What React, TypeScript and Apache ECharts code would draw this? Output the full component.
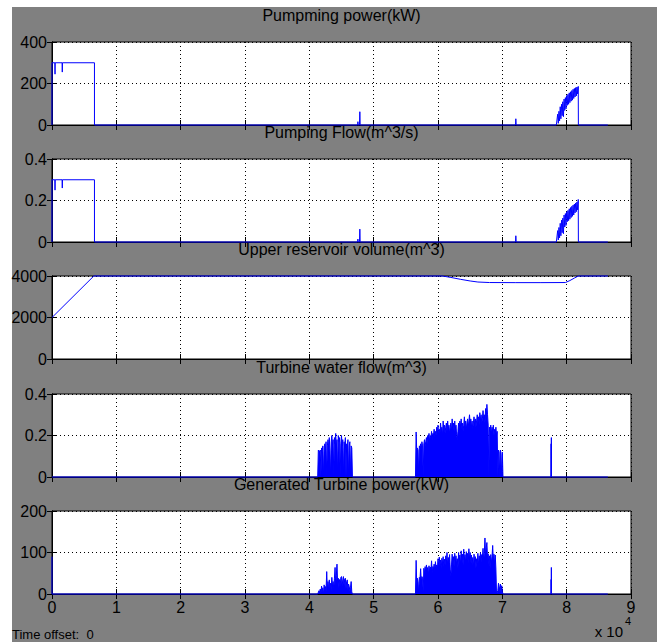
import React, { useEffect, useRef } from "react";
import * as echarts from "echarts";

// Time axis (seconds), labelled in units of 10^4 s
const X_MAX = 90000;
const X_STEP = 10000;
const X_TICK_LABELS = ["0", "1", "2", "3", "4", "5", "6", "7", "8", "9"];
const SAMPLE_DT = 100;

const TITLES = [
  "Pumpming power(kW)",
  "Pumping Flow(m^3/s)",
  "Upper reservoir volume(m^3)",
  "Turbine water flow(m^3)",
  "Generated Turbine power(kW)",
];
const Y_MAX = [400, 0.4, 4000, 0.4, 200];
const Y_STEP = [200, 0.2, 2000, 0.2, 100];

// ---- Pumping power (kW)
const pumpPowerHead: number[][] = [
  [0, 0], [0, 300], [440, 300], [470, 245], [500, 300], [1570, 300], [1600, 255], [1630, 300],
  [6600, 300], [6600, 0], [47500, 0], [47550, 16], [47600, 0], [47800, 0], [47850, 64], [47900, 0],
  [72050, 0], [72100, 30], [72150, 0], [78400, 0],
];
const PUMP_BURST_START = 78500;
const pumpPowerBurst = [
  0, 52, 8, 66, 20, 88, 30, 100, 45, 112, 40, 125, 70, 132, 78, 142, 95, 148, 100, 155,
  108, 160, 115, 166, 120, 172, 128, 176, 135, 180, 140, 183, 150, 186,
];
const pumpPowerTail: number[][] = [[81820, 0], [86400, 0]];

// ---- Pumping flow (m^3/s)
const pumpFlowHead: number[][] = [
  [0, 0], [0, 0.3], [440, 0.3], [470, 0.25], [500, 0.3], [1570, 0.3], [1600, 0.26], [1630, 0.3],
  [6600, 0.3], [6600, 0], [47500, 0], [47550, 0.014], [47600, 0], [47800, 0], [47850, 0.062], [47900, 0],
  [72050, 0], [72100, 0.03], [72150, 0], [78400, 0],
];
const pumpFlowBurst = [
  0, 0.055, 0.01, 0.07, 0.02, 0.09, 0.03, 0.105, 0.045, 0.115, 0.04, 0.13, 0.072, 0.137, 0.08, 0.146,
  0.098, 0.152, 0.103, 0.16, 0.11, 0.166, 0.118, 0.172, 0.124, 0.178, 0.13, 0.183, 0.14, 0.188, 0.146,
  0.193, 0.155, 0.205,
];
const pumpFlowTail: number[][] = [[81820, 0], [86400, 0]];

// ---- Upper reservoir volume (m^3)
const reservoirVolume: number[][] = [
  [0, 2000], [6500, 4000], [60700, 4000], [62000, 3930], [63500, 3840], [65000, 3760], [66200, 3710],
  [68000, 3685], [72000, 3680], [76000, 3680], [79800, 3685], [80500, 3780], [81200, 3900],
  [81800, 4000], [86400, 4000],
];

// ---- Turbine water flow
const TURB_A_START = 41400;
const TURB_B_START = 56600;
const turbineFlowA = [
  0.13, 0.13, 0.12, 0.13, 0, 0.14, 0.13, 0.15, 0, 0.14, 0.16, 0.13, 0.17, 0, 0.15, 0.18, 0.14, 0.19,
  0.13, 0, 0.17, 0.2, 0.15, 0.18, 0, 0.19, 0.16, 0.21, 0.14, 0.18, 0, 0.2, 0.17, 0.19, 0, 0.16, 0.2,
  0.15, 0.18, 0, 0.17, 0.14, 0.19, 0, 0.16, 0.13, 0.18, 0, 0.15, 0.17, 0, 0.15, 0.14, 0,
];
const turbineFlowB = [
  0.217, 0.12, 0.14, 0.13, 0, 0.15, 0.14, 0.16, 0.13, 0.17, 0.15, 0, 0.16, 0.18, 0.15, 0.17, 0.19,
  0.16, 0.2, 0.18, 0.21, 0.17, 0.2, 0.19, 0.22, 0.18, 0.21, 0.2, 0.23, 0.19, 0.22, 0.2, 0.24, 0.21,
  0.25, 0.2, 0.23, 0.21, 0.26, 0.22, 0.24, 0.2, 0.27, 0.22, 0.25, 0.21, 0.24, 0.26, 0.22, 0.27, 0.23,
  0.25, 0.21, 0.24, 0.26, 0.22, 0.28, 0.24, 0.26, 0.22, 0.27, 0.23, 0.25, 0.2, 0.18, 0.22, 0.26, 0.23,
  0.27, 0.24, 0.28, 0.23, 0.26, 0.22, 0.25, 0.29, 0.24, 0.27, 0.23, 0.26, 0.28, 0.24, 0.27, 0.3, 0.25,
  0.28, 0.24, 0.27, 0.23, 0.26, 0.29, 0.25, 0.28, 0.24, 0.27, 0.3, 0.26, 0.29, 0.25, 0.31, 0.27, 0.3,
  0.26, 0.28, 0.32, 0.27, 0.3, 0.26, 0.33, 0.28, 0.35, 0.3, 0.25, 0, 0.24, 0.22, 0.25, 0.21, 0.24,
  0.22, 0.25, 0.2, 0.23, 0.21, 0.24, 0.2, 0.22, 0, 0.13, 0.12, 0, 0.13, 0.11, 0, 0.12, 0,
];
const turbineFlowEdges: number[][][] = [
  [[0, 0], [41300, 0]],
  [[46800, 0], [56500, 0]],
  [[70300, 0], [77560, 0], [77580, 0.16], [77600, 0], [77620, 0.19], [77640, 0], [86400, 0]],
];

// ---- Generated turbine power (kW)
const turbinePowerA = [
  0, 8, 3, 12, 0, 19, 6, 15, 0, 22, 10, 18, 8, 54, 12, 30, 10, 34, 15, 26, 8, 40, 18, 30, 12, 38, 64,
  20, 45, 72, 25, 38, 15, 35, 20, 40, 42, 18, 35, 42, 20, 36, 38, 12, 30, 34, 10, 24, 18, 8, 15, 30, 5, 0,
];
const turbinePowerB = [
  81, 20, 38, 30, 0, 40, 35, 61, 30, 42, 38, 5, 62, 48, 66, 50, 70, 55, 64, 45, 68, 52, 65, 58, 80, 50,
  66, 60, 72, 55, 78, 62, 70, 58, 85, 66, 89, 70, 82, 60, 86, 72, 90, 65, 84, 70, 92, 75, 100, 68, 88,
  78, 95, 60, 42, 70, 96, 74, 90, 66, 98, 80, 92, 70, 85, 62, 100, 78, 94, 72, 104, 80, 96, 70, 108, 82,
  95, 75, 102, 85, 98, 72, 109, 84, 100, 78, 94, 70, 88, 65, 96, 75, 90, 62, 85, 72, 98, 70, 92, 80, 100,
  78, 95, 88, 110, 80, 98, 135, 90, 112, 124, 85, 97, 70, 92, 60, 95, 75, 90, 117, 80, 96, 72, 94, 60,
  0, 0, 8, 26, 4, 18, 24, 0, 20, 6, 0,
];
const turbinePowerEdges: number[][][] = [
  [[0, 90], [0, 0], [41300, 0]],
  [[46800, 0], [56500, 0]],
  [[70300, 0], [77560, 0], [77580, 35], [77600, 0], [77620, 64], [77640, 0], [86400, 0]],
];

function sampled(t0: number, values: number[]): number[][] {
  return values.map((v, i) => [t0 + i * SAMPLE_DT, v]);
}

const SERIES_DATA: number[][][] = [
  [...pumpPowerHead, ...sampled(PUMP_BURST_START, pumpPowerBurst), ...pumpPowerTail],
  [...pumpFlowHead, ...sampled(PUMP_BURST_START, pumpFlowBurst), ...pumpFlowTail],
  reservoirVolume,
  [
    ...turbineFlowEdges[0], ...sampled(TURB_A_START, turbineFlowA),
    ...turbineFlowEdges[1], ...sampled(TURB_B_START, turbineFlowB), ...turbineFlowEdges[2],
  ],
  [
    ...turbinePowerEdges[0], ...sampled(TURB_A_START, turbinePowerA),
    ...turbinePowerEdges[1], ...sampled(TURB_B_START, turbinePowerB), ...turbinePowerEdges[2],
  ],
];
const FILLED = [false, false, false, true, true];

const FONT = '"Liberation Sans", Arial, Helvetica, sans-serif';
const PLOT_LEFT = 52;
const PLOT_WIDTH = 579;
const PLOT_HEIGHT = 83;
const PLOT_TOPS = [42, 159, 276, 394, 511];
const TRACE = "#0000ff";

export default function App() {
  const ref = useRef<HTMLDivElement>(null);

  useEffect(() => {
    if (!ref.current) return;
    const chart = echarts.init(ref.current, undefined, { renderer: "svg" });

    const tick = { show: true, inside: true, length: 5, lineStyle: { color: "#000", width: 1 } };
    const axisLine = { show: true, lineStyle: { color: "#000", width: 1 } };
    const dotted = { show: true, lineStyle: { color: "#000", width: 1, type: [1, 3] as any } };

    const grids = PLOT_TOPS.map((top) => ({
      left: PLOT_LEFT, top, width: PLOT_WIDTH, height: PLOT_HEIGHT,
      show: true, backgroundColor: "#fff", borderColor: "#000", borderWidth: 1,
    }));

    const xAxes: any[] = [];
    const yAxes: any[] = [];
    PLOT_TOPS.forEach((_, i) => {
      const last = i === PLOT_TOPS.length - 1;
      xAxes.push({
        type: "value", gridIndex: i, position: "bottom", min: 0, max: X_MAX, interval: X_STEP,
        axisLine, axisTick: tick, splitLine: dotted,
        axisLabel: {
          show: last, margin: 5, color: "#000", fontSize: 16, fontFamily: FONT,
          formatter: (v: number) => X_TICK_LABELS[Math.round(v / X_STEP)] ?? "",
        },
      });
      xAxes.push({
        type: "value", gridIndex: i, position: "top", min: 0, max: X_MAX, interval: X_STEP,
        axisLine, axisTick: tick, splitLine: { show: false }, axisLabel: { show: false },
      });
      yAxes.push({
        type: "value", gridIndex: i, position: "left", min: 0, max: Y_MAX[i], interval: Y_STEP[i],
        axisLine, axisTick: tick, splitLine: dotted,
        axisLabel: {
          margin: 5, color: "#000", fontSize: 16, fontFamily: FONT,
          formatter: (v: number) => String(Math.round(v * 1000) / 1000),
        },
      });
      yAxes.push({
        type: "value", gridIndex: i, position: "right", min: 0, max: Y_MAX[i], interval: Y_STEP[i],
        axisLine, axisTick: tick, splitLine: { show: false }, axisLabel: { show: false },
      });
    });

    const series = SERIES_DATA.map((data, i) => ({
      type: "line",
      xAxisIndex: 2 * i,
      yAxisIndex: 2 * i,
      data,
      symbol: "none",
      showSymbol: false,
      clip: false,
      silent: true,
      z: 5,
      lineStyle: { color: TRACE, width: 1 },
      areaStyle: FILLED[i] ? { color: TRACE, opacity: 1 } : undefined,
    }));

    const textStyle = (text: string, size: number, align: string, family = FONT) => ({
      text,
      font: `${size}px ${family}`,
      fill: "#000",
      align,
      verticalAlign: "middle",
      textAlign: align,
      textVerticalAlign: "middle",
    });

    const graphic: any[] = TITLES.map((t, i) => ({
      type: "text",
      x: PLOT_LEFT + PLOT_WIDTH / 2,
      y: PLOT_TOPS[i] - 27,
      silent: true,
      style: textStyle(t, 16, "center"),
    }));
    graphic.push(
      {
        type: "text", x: 12, y: 634, silent: true,
        style: textStyle("Time offset:  0", 13, "left", '"Liberation Sans Narrow", "Arial Narrow", ' + FONT),
      },
      { type: "text", x: 623, y: 631, silent: true, style: textStyle("x 10", 15, "right") },
      { type: "text", x: 625, y: 621, silent: true, style: textStyle("4", 11, "left") },
    );

    chart.setOption({
      animation: false,
      backgroundColor: "transparent",
      textStyle: { fontFamily: FONT },
      grid: grids,
      xAxis: xAxes,
      yAxis: yAxes,
      series,
      graphic,
    });

    return () => chart.dispose();
  }, []);

  return (
    <div style={{ position: "absolute", left: 0, top: 0, width: 665, height: 642, background: "#fff" }}>
      <div style={{ position: "absolute", left: 12, top: 7, width: 645, height: 635, background: "#808080" }} />
      <div ref={ref} style={{ position: "absolute", left: 0, top: 0, width: 665, height: 642 }} />
    </div>
  );
}
